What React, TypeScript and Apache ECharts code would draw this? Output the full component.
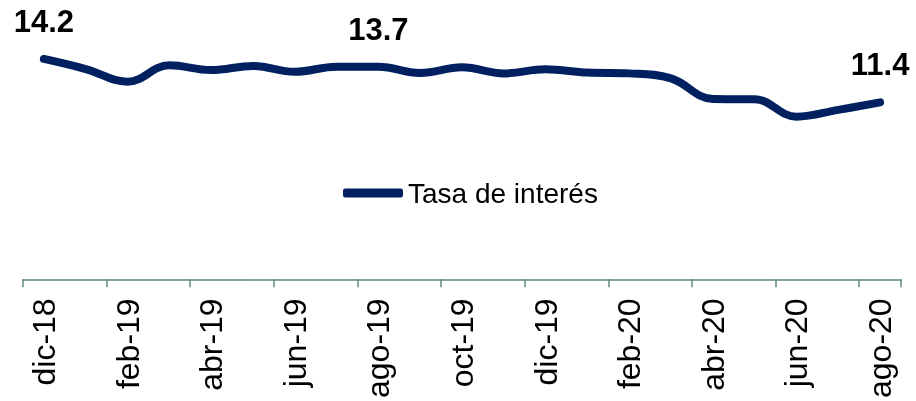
import React, { useEffect, useRef } from "react";
import * as echarts from "echarts";

const categories = [
  "dic-18", "ene-19", "feb-19", "mar-19", "abr-19", "may-19", "jun-19", "jul-19",
  "ago-19", "sep-19", "oct-19", "nov-19", "dic-19", "ene-20", "feb-20", "mar-20",
  "abr-20", "may-20", "jun-20", "jul-20", "ago-20",
];
const tasaValues = [
  14.2, 13.55, 12.73, 13.79, 13.48, 13.75, 13.37, 13.7, 13.7, 13.3, 13.66,
  13.27, 13.53, 13.32, 13.27, 12.95, 11.62, 11.6, 10.48, 10.92, 11.4,
];
const labeledIndices = [0, 8, 20];
const seriesName = "Tasa de interés";

export default function App() {
  const ref = useRef<HTMLDivElement>(null);
  useEffect(() => {
    if (!ref.current) return;
    const chart = echarts.init(ref.current, null, { renderer: "svg" });
    const navy = "#002060";
    chart.setOption({
      animation: false,
      grid: { left: 23, right: 15, top: 31, bottom: 121, containLabel: false },
      legend: {
        data: [seriesName],
        left: 338,
        top: 172,
        icon: "roundRect",
        itemWidth: 60,
        itemHeight: 9,
        itemStyle: { color: navy },
        textStyle: { fontFamily: "Liberation Sans", fontSize: 28, color: "#000", lineHeight: 32 },
      },
      xAxis: {
        type: "category",
        data: categories,
        boundaryGap: true,
        axisLine: { lineStyle: { color: "#5f8a80", width: 1.5 } },
        axisTick: { show: true, length: 8, interval: 1, lineStyle: { color: "#5f8a80", width: 1.5 } },
        axisLabel: {
          interval: 1,
          rotate: 90,
          margin: 19,
          fontFamily: "Liberation Sans",
          fontSize: 32,
          color: "#000",
        },
      },
      yAxis: {
        type: "value",
        min: 0,
        max: 16,
        show: false,
        splitLine: { show: false },
      },
      series: [
        {
          name: seriesName,
          type: "line",
          smooth: 0.4,
          symbol: "circle",
          symbolSize: 0,
          showSymbol: true,
          lineStyle: { color: navy, width: 8, cap: "round" },
          itemStyle: { color: navy },
          data: tasaValues.map((v, i) =>
            labeledIndices.includes(i)
              ? {
                  value: v,
                  label: {
                    show: true,
                    position: "top",
                    distance: 22,
                    formatter: (p: any) => Number(p.value).toFixed(1),
                    fontFamily: "Liberation Sans",
                    fontWeight: "bold",
                    fontSize: 31,
                    color: "#000",
                  },
                }
              : v
          ),
        },
      ],
    });
    return () => chart.dispose();
  }, []);
  return (
    <div
      ref={ref}
      style={{ position: "fixed", left: 0, top: 0, width: 916, height: 401 }}
    />
  );
}
